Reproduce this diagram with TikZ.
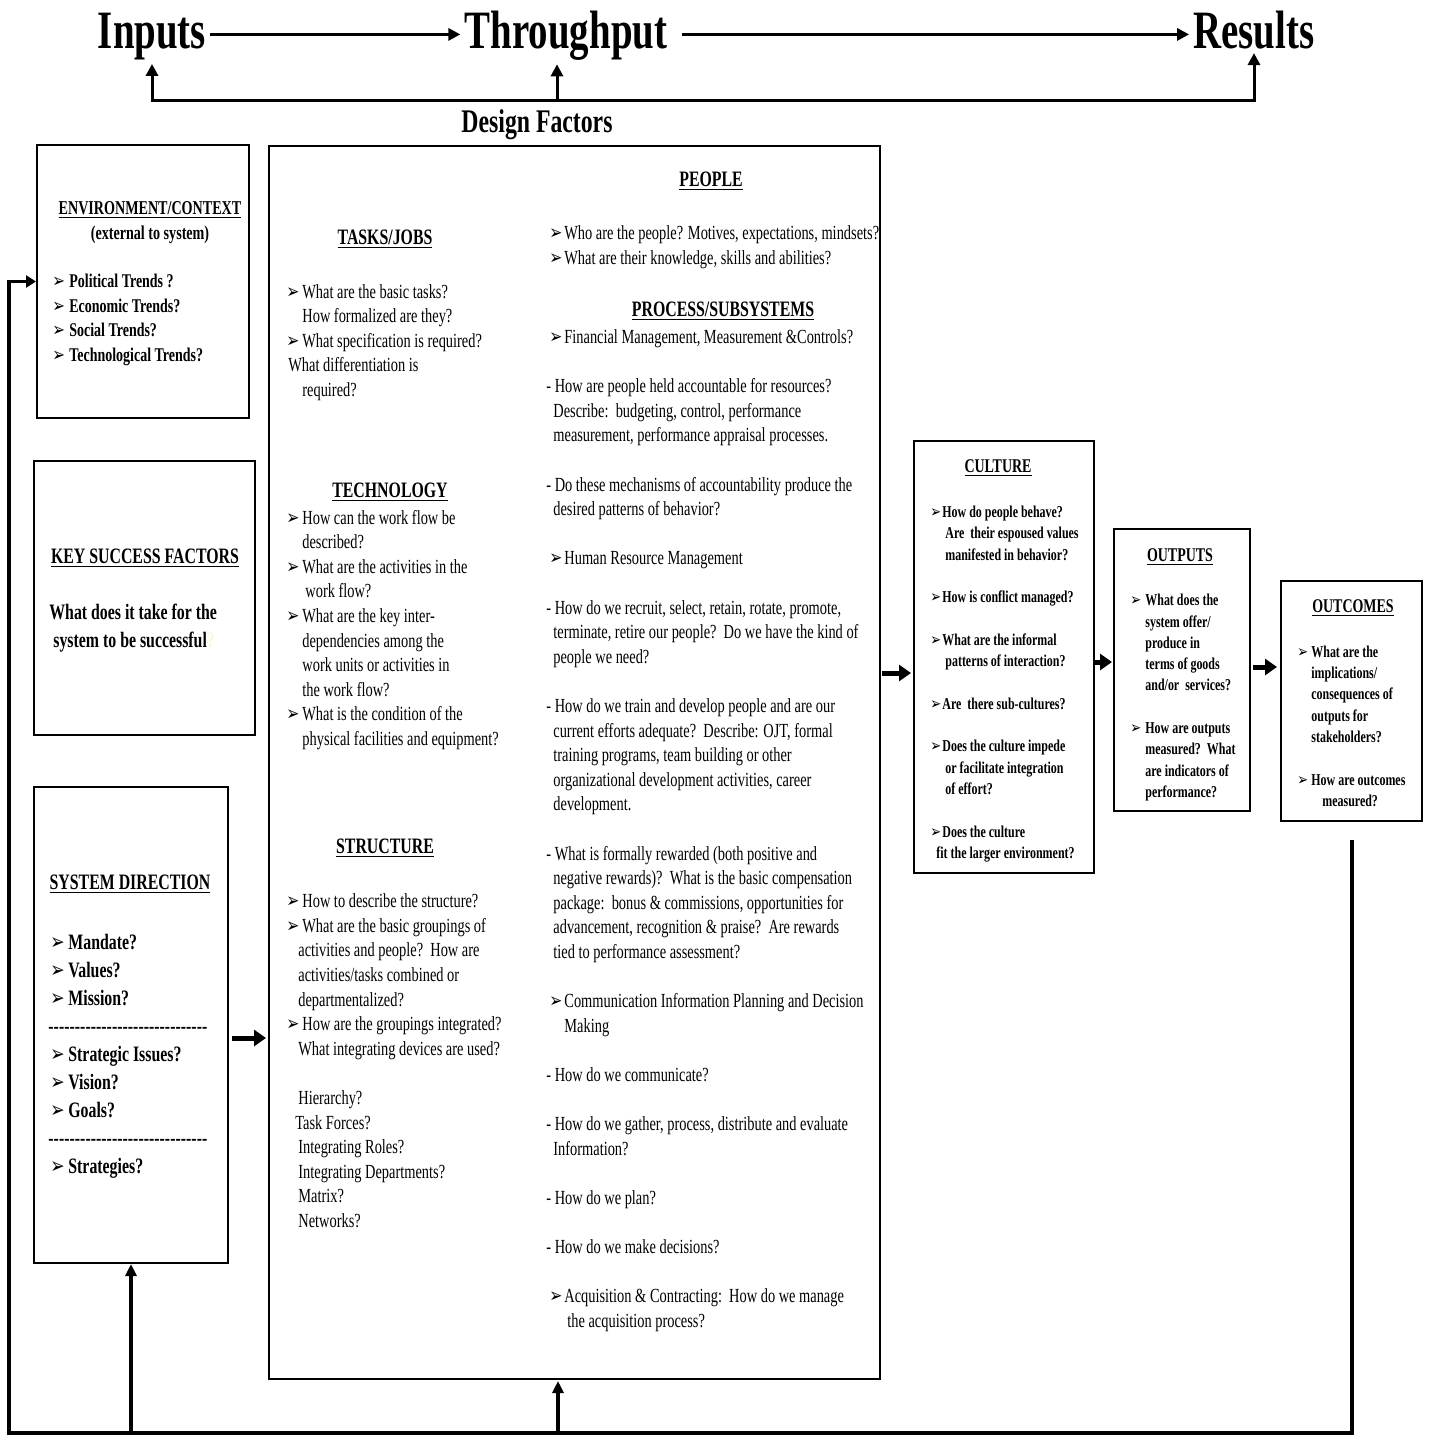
\documentclass[tikz,border=0pt]{standalone}
\usepackage{fontspec}
\setmainfont{Liberation Serif}[FakeStretch=0.72]
\newfontfamily\arrfont{DejaVu Sans}
\usepackage{tikz}
\usetikzlibrary{arrows.meta,positioning}
\definecolor{qmark}{RGB}{250,248,205}
\newcommand{\bl}[1][8pt]{\makebox[#1][l]{\scalebox{0.78}[1.0]{\arrfont ➢}}}
\newcommand{\ind}[1][8pt]{\hspace*{#1}}
\newcommand{\dashrow}{\makebox[79.5pt]{\xleaders\hbox{-}\hfill}}
\tikzset{
	frame/.style = {draw, line width=1pt, inner sep=0pt, anchor=north west},
	ttl/.style = {font=\bfseries\fontsize{27}{30}\selectfont, inner sep=2pt, anchor=base},
	hd/.style = {font=\bfseries\fontsize{11}{14}\selectfont, inner sep=0pt, anchor=base,
		yshift=-3.2pt},
	hds/.style = {hd, font=\bfseries\fontsize{9.7}{12.5}\selectfont},
	txt/.style = {align=left, inner sep=0pt, anchor=base west, yshift=-3.2pt,
		font=\fontsize{10}{12.3}\selectfont},% plain text in the big box, placed by its last line
	btxt/.style = {txt, font=\bfseries\fontsize{11}{14}\selectfont},% left boxes
	stxt/.style = {txt, font=\bfseries\fontsize{8.3}{10.65}\selectfont},% right boxes
	thin/.style = {line width=1.5pt},
	blk/.style = {line width=2.5pt, -{Triangle[length=6pt,width=8pt]}},
	up/.style = {line width=2pt, -{Triangle[length=6pt,width=5.5pt]}}
}
\begin{document}
\begin{tikzpicture}[x=0.5pt,y=-0.5pt,>={Triangle[length=6pt,width=6pt]}]
\useasboundingbox (0,0) rectangle (1430,1435);

% top line
\node[ttl] (inputs) at (152,48) {Inputs};
\node[ttl] (through) at (566,48) {Throughput};
\node[ttl] (results) at (1254,48) {Results};
\draw[thin,->] ([yshift=4.5pt]inputs.mid east) -- ([yshift=4.5pt]through.mid west);
\draw[thin,->] ([yshift=4.5pt,xshift=5pt]through.mid east) -- ([yshift=4.5pt]results.mid west);
\coordinate (df) at (557,100);
\draw[thin,<->] (inputs.south) |- (df) -| (results.south);
\draw[thin,->] (df) -- (df |- through.south);
\node[hd, font=\bfseries\fontsize{16.5}{18}\selectfont] (dfac) at (537,126.5) {Design Factors};

% boxes
\node[frame, minimum width=106pt, minimum height=136.5pt] (env) at (36,144) {};
\node[frame, minimum width=110.5pt, minimum height=137pt] (ksf) at (33,460) {};
\node[frame, minimum width=97pt, minimum height=238pt] (sysdir) at (33,786) {};
\node[frame, minimum width=305.5pt, minimum height=616.5pt] (main) at (268,145) {};
\node[frame, minimum width=90pt, minimum height=216pt] (culture) at (913,440) {};
\node[frame, minimum width=68pt, minimum height=141pt] (outputs) at (1113,528) {};
\node[frame, minimum width=70.5pt, minimum height=120pt] (outcomes) at (1280,580) {};

% environment
\node[hds, align=center, font=\bfseries\fontsize{9.8}{12.5}\selectfont] (envh) at (150,233)
	{\underline{ENVIRONMENT/CONTEXT}\\(external to system)};
\node[txt, font=\bfseries\fontsize{9.7}{12.3}\selectfont] (envt) at (52,355)
	{\bl[8.5pt]Political Trends ?\\ \bl[8.5pt]Economic Trends?\\
	 \bl[8.5pt]Social Trends?\\ \bl[8.5pt]Technological Trends?};

% key success factors
\node[hd] (ksfh) at (145,557) {\underline{KEY SUCCESS FACTORS}};
\node[btxt] (ksft) at (49,641)
	{What does it take for the\\ \ind[2pt]system to be successful{\color{qmark}?}};

% system direction
\node[hd] (sysh) at (130,883) {\underline{SYSTEM DIRECTION}};
\node[btxt] (syst) at (50,1167)
	{\bl[9pt]Mandate?\\ \bl[9pt]Values?\\ \bl[9pt]Mission?\\
	 \hspace*{-1pt}\dashrow\\
	 \bl[9pt]Strategic Issues?\\ \bl[9pt]Vision?\\ \bl[9pt]Goals?\\
	 \hspace*{-1pt}\dashrow\\
	 \bl[9pt]Strategies?};

% design factors, left column
\node[hd] (tasksh) at (385,238) {\underline{TASKS/JOBS}};
\node[txt] (taskst) at (286,390)
	{\bl What are the basic tasks?\\
	 \ind How formalized are they?\\
	 \bl What specification is required?\\
	 \ind[1pt]What differentiation is\\
	 \ind required?};
\node[hd] (techh) at (390,491) {\underline{TECHNOLOGY}};
\node[txt] (techt) at (286,739)
	{\bl How can the work flow be\\
	 \ind described?\\
	 \bl What are the activities in the\\
	 \ind[9.5pt]work flow?\\
	 \bl What are the key inter-\\
	 \ind dependencies among the\\
	 \ind work units or activities in\\
	 \ind the work flow?\\
	 \bl What is the condition of the\\
	 \ind physical facilities and equipment?};
\node[hd] (structh) at (385,847) {\underline{STRUCTURE}};
\node[txt] (structt) at (286,1221)
	{\bl How to describe the structure?\\
	 \bl What are the basic groupings of\\
	 \ind[6pt]activities and people?\ \ How are\\
	 \ind[6pt]activities/tasks combined or\\
	 \ind[6pt]departmentalized?\\
	 \bl How are the groupings integrated?\\
	 \ind[6pt]What integrating devices are used?\\[12.3pt]
	 \ind[6pt]Hierarchy?\\
	 \ind[4.5pt]Task Forces?\\
	 \ind[6pt]Integrating Roles?\\
	 \ind[6pt]Integrating Departments?\\
	 \ind[6pt]Matrix?\\
	 \ind[6pt]Networks?};

% design factors, right column
\node[hd] (peopleh) at (711,180) {\underline{PEOPLE}};
\node[txt] (peoplet) at (549,258)
	{\bl[7.5pt]Who are the people? Motives, expectations, mindsets?\\
	 \bl[7.5pt]What are their knowledge, skills and abilities?};
\node[hd] (proch) at (723,310) {\underline{PROCESS/SUBSYSTEMS}};
\node[txt] (proct) at (549,1321)
	{\bl[7.5pt]Financial Management, Measurement \&Controls?\\[12.3pt]
	 \ind[-1.5pt]- How are people held accountable for resources?\\
	 \ind[2pt]Describe:\ \ budgeting, control, performance\\
	 \ind[2pt]measurement, performance appraisal processes.\\[12.3pt]
	 \ind[-1.5pt]- Do these mechanisms of accountability produce the\\
	 \ind[2pt]desired patterns of behavior?\\[12.3pt]
	 \bl[7.5pt]Human Resource Management\\[12.3pt]
	 \ind[-1.5pt]- How do we recruit, select, retain, rotate, promote,\\
	 \ind[2pt]terminate, retire our people?\ \ Do we have the kind of\\
	 \ind[2pt]people we need?\\[12.3pt]
	 \ind[-1.5pt]- How do we train and develop people and are our\\
	 \ind[2pt]current efforts adequate?\ \ Describe: OJT, formal\\
	 \ind[2pt]training programs, team building or other\\
	 \ind[2pt]organizational development activities, career\\
	 \ind[2pt]development.\\[12.3pt]
	 \ind[-1.5pt]- What is formally rewarded (both positive and\\
	 \ind[2pt]negative rewards)?\ \ What is the basic compensation\\
	 \ind[2pt]package:\ \ bonus \& commissions, opportunities for\\
	 \ind[2pt]advancement, recognition \& praise?\ \ Are rewards\\
	 \ind[2pt]tied to performance assessment?\\[12.3pt]
	 \bl[7.5pt]Communication Information Planning and Decision\\
	 \ind[7.5pt]Making\\[12.3pt]
	 \ind[-1.5pt]- How do we communicate?\\[12.3pt]
	 \ind[-1.5pt]- How do we gather, process, distribute and evaluate\\
	 \ind[2pt]Information?\\[12.3pt]
	 \ind[-1.5pt]- How do we plan?\\[12.3pt]
	 \ind[-1.5pt]- How do we make decisions?\\[12.3pt]
	 \bl[7.5pt]Acquisition \& Contracting:\ \ How do we manage\\
	 \ind[9pt]the acquisition process?};

% culture, outputs, outcomes
\node[hds] (culth) at (998,466) {\underline{CULTURE}};
\node[stxt] (cultt) at (930,852)
	{\bl[6pt]How do people behave?\\
	 \ind[7.5pt]Are\ \ their espoused values\\
	 \ind[7.5pt]manifested in behavior?\\[10.65pt]
	 \bl[6pt]How is conflict managed?\\[10.65pt]
	 \bl[6pt]What are the informal\\
	 \ind[7.5pt]patterns of interaction?\\[10.65pt]
	 \bl[6pt]Are\ \ there sub-cultures?\\[10.65pt]
	 \bl[6pt]Does the culture impede\\
	 \ind[7.5pt]or facilitate integration\\
	 \ind[7.5pt]of effort?\\[10.65pt]
	 \bl[6pt]Does the culture\\
	 \ind[3pt]fit the larger environment?};
\node[hds] (outh) at (1180,555) {\underline{OUTPUTS}};
\node[stxt] (outt) at (1130,791)
	{\bl[7.5pt]What does the\\
	 \ind[7.5pt]system offer/\\
	 \ind[7.5pt]produce in\\
	 \ind[7.5pt]terms of goods\\
	 \ind[7.5pt]and/or\ \ services?\\[10.65pt]
	 \bl[7.5pt]How are outputs\\
	 \ind[7.5pt]measured?\ \ What\\
	 \ind[7.5pt]are indicators of\\
	 \ind[7.5pt]performance?};
\node[hds] (outch) at (1353,606) {\underline{OUTCOMES}};
\node[stxt] (outct) at (1297,800)
	{\bl[7pt]What are the\\
	 \ind[7pt]implications/\\
	 \ind[7pt]consequences of\\
	 \ind[7pt]outputs for\\
	 \ind[7pt]stakeholders?\\[10.65pt]
	 \bl[7pt]How are outcomes\\
	 \ind[12.5pt]measured?};

% flow arrows
\coordinate (rowA) at (0,1038);
\draw[blk, shorten <=1.5pt, shorten >=1pt] (sysdir.east |- rowA) -- (main.west |- rowA);
\coordinate (rowB) at (0,673);
\draw[blk, shorten <=0.5pt, shorten >=1pt] (main.east |- rowB) -- (culture.west |- rowB);
\coordinate (rowC) at (0,662);
\draw[blk, shorten <=-1pt, shorten >=0.5pt] (culture.east |- rowC) -- (outputs.west |- rowC);
\coordinate (rowD) at (0,667);
\draw[blk, shorten <=1pt, shorten >=1.5pt] (outputs.east |- rowD) -- (outcomes.west |- rowD);

% feedback loop
\coordinate (fbR) at (1352,840);
\coordinate (fbB) at (9,1433);
\draw[thin, line width=1.6pt, ->, >={Triangle[length=5pt,width=6pt]}]
	(fbR) |- (fbB) |- (env.west);
\draw[up] (sysdir.south |- fbB) -- (sysdir.south);
\coordinate (mainin) at (558,1433);
\draw[up, shorten >=0.5pt] (mainin) -- (mainin |- main.south);
\end{tikzpicture}
\end{document}
